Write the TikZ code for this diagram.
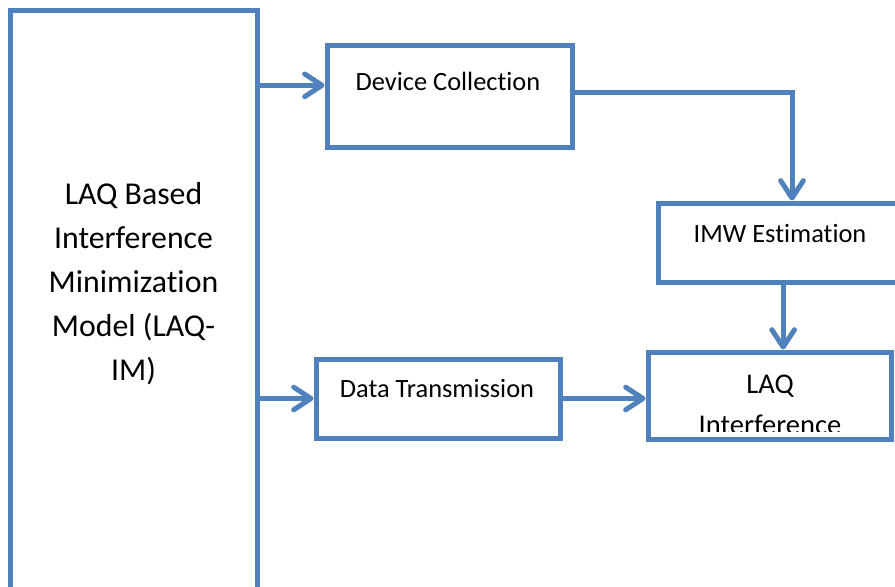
\documentclass[tikz,border=0pt]{standalone}
\usepackage{fontspec}
\setmainfont{Carlito}[Ligatures=NoCommon]
\usetikzlibrary{arrows.meta,calc}
\definecolor{boxblue}{RGB}{79,129,189}
\tikzset{
  blockbox/.style={draw=boxblue, line width=3.75pt, inner sep=0pt, rectangle},
  link/.style={draw=boxblue, line width=3.75pt, -{Straight Barb[length=13pt,width=17pt,round]}},
  smalltext/.style={font=\fontsize{19.8}{23}\selectfont, anchor=base, inner sep=0pt},
  laqtext/.style={font=\fontsize{21.4}{30.75}\selectfont, anchor=base, inner sep=0pt, align=center},
  bigtext/.style={font=\fontsize{23.85}{33}\selectfont, anchor=base, inner sep=0pt, align=center},
}

\begin{document}
\begin{tikzpicture}[x=0.75pt,y=0.75pt,yscale=-1,xscale=1]
\clip (0,0) rectangle (895,586);

%Boxes
\node [blockbox, minimum width=185.25pt, minimum height=442.5pt] (lim) at (133.5,305) {};
\node [blockbox, minimum width=183.75pt, minimum height=76.5pt] (dc) at (449.5,96) {};
\node [blockbox, minimum width=201pt, minimum height=59.25pt] (imw) at (792,242.5) {};
\node [blockbox, minimum width=182.25pt, minimum height=65.25pt] (laq) at (769.5,395.5) {};
\node [blockbox, minimum width=183pt, minimum height=59.25pt] (dt) at (438,398.5) {};

% Text Node (base = last line)
\node [bigtext] (limtext) at (133.5,380) {LAQ Based\\Interference\\Minimization\\Model (LAQ-\\IM)};
% Text Node
\node [smalltext] (dctext) at (448,90) {Device Collection};
% Text Node
\node [smalltext] (imwtext) at (780,242) {IMW Estimation};
% Text Node
\node [smalltext] (dttext) at (437,397) {Data Transmission};
% Text Node (cut off by the box)
\begin{scope}
\clip (651,355) rectangle (888,431);
\node [laqtext] (laqtext) at (770,434) {LAQ\\Interference};
\end{scope}

%Connectors
\coordinate (dcin) at ($(dc.north west)!0.4!(dc.south west)$);
\coordinate (dcout) at ($(dc.north east)!0.47!(dc.south east)$);
\coordinate (laqin) at ($(laq.north west)!0.555!(laq.north east)$);

\draw [link] (lim.east |- dcin) -- (dcin);
\draw [link] (dcout) -| (imw.north);
\draw [link] (imw.south -| laqin) -- (laqin);
\draw [link] (lim.east |- dt.west) -- (dt.west);
\draw [link] (dt.east) -- (dt.east -| laq.west);

\end{tikzpicture}
\end{document}
